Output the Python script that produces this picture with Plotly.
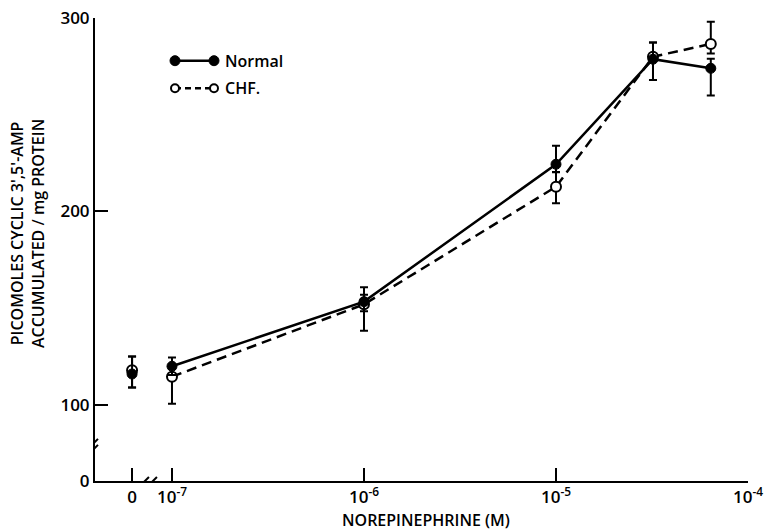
import numpy as np
import plotly.graph_objects as go

# ---- data ----
# x position of the "0" (no drug) dose, placed on the broken log axis
zero_pos = -7.208
conc_labels = ["0", "1e-7", "1e-6", "1e-5", "3.2e-5", "6.4e-5"]
conc_log = [zero_pos, -7.0, -6.0, -5.0, float(np.log10(3.2e-5)), float(np.log10(6.4e-5))]

normal_y = [116, 120, 153.4, 224.4, 278.7, 274]
normal_plus = [9, 4.5, 7.4, 9.6, 8.7, 5]
normal_minus = [7, 4.5, 5, 4, 10.7, 14]

chf_y = [118, 114.6, 152, 212.8, 280, 286.6]
chf_plus = [7, 4, 5, 7.5, 7.4, 11.5]
chf_minus = [9, 14, 13.6, 8.6, 12, 5]

x_tickvals = [zero_pos, -7, -6, -5, -4]
x_ticktext = ["0", "10<sup>-7</sup>", "10<sup>-6</sup>", "10<sup>-5</sup>", "10<sup>-4</sup>"]
y_zero_pos = 60.7
y_tickvals = [y_zero_pos, 100, 200, 300]
y_ticktext = ["0", "100", "200", "300"]

FONT = "Open Sans"
WEIGHT = 600

fig = go.Figure()

fig.add_trace(go.Scatter(
    x=conc_log[1:], y=chf_y[1:], mode="lines",
    line=dict(color="black", width=2.5, dash="10px,6px"),
    showlegend=False, hoverinfo="skip"))
fig.add_trace(go.Scatter(
    x=conc_log, y=chf_y, mode="markers",
    marker=dict(symbol="circle", size=10, color="white",
                line=dict(color="black", width=2)),
    error_y=dict(type="data", symmetric=False, array=chf_plus,
                 arrayminus=chf_minus, color="black", thickness=2, width=4),
    name="CHF.", showlegend=False))
fig.add_trace(go.Scatter(
    x=conc_log[1:], y=normal_y[1:], mode="lines",
    line=dict(color="black", width=2.5),
    showlegend=False, hoverinfo="skip"))
fig.add_trace(go.Scatter(
    x=conc_log, y=normal_y, mode="markers",
    marker=dict(symbol="circle", size=10, color="black",
                line=dict(color="black", width=1)),
    error_y=dict(type="data", symmetric=False, array=normal_plus,
                 arrayminus=normal_minus, color="black", thickness=2, width=4),
    name="Normal", showlegend=False))

tickfont = dict(family=FONT, size=17, color="black", weight=WEIGHT)

# ---- axes ----
fig.update_xaxes(
    range=[-7.401, -4.0], showgrid=False, zeroline=False, automargin=False,
    showline=True, linecolor="black", linewidth=2,
    ticks="inside", ticklen=13, tickwidth=2, tickcolor="black",
    tickvals=x_tickvals, ticktext=x_ticktext, tickfont=tickfont)
fig.update_yaxes(
    range=[y_zero_pos, 300], showgrid=False, zeroline=False, automargin=False,
    showline=True, linecolor="black", linewidth=2,
    ticks="inside", ticklen=13, tickwidth=2, tickcolor="black",
    tickvals=y_tickvals, ticktext=y_ticktext, tickfont=tickfont)

shapes = []
# axis break on y axis
shapes.append(dict(type="rect", xref="x", yref="y", xsizemode="pixel", ysizemode="pixel",
                   xanchor=-7.401, yanchor=80.4, x0=-3, x1=3, y0=-3, y1=3,
                   fillcolor="white", line=dict(width=0)))
for dy in (-3, 3):
    shapes.append(dict(type="line", xref="x", yref="y", xsizemode="pixel", ysizemode="pixel",
                       xanchor=-7.401, yanchor=80.4, x0=-3, x1=3, y0=dy - 5, y1=dy + 1,
                       line=dict(color="black", width=2)))
# axis break on x axis
xb = -7.12
shapes.append(dict(type="rect", xref="x", yref="y", xsizemode="pixel", ysizemode="pixel",
                   xanchor=xb, yanchor=y_zero_pos, x0=-4, x1=4, y0=-3, y1=3,
                   fillcolor="white", line=dict(width=0)))
for dx in (-4, 4):
    shapes.append(dict(type="line", xref="x", yref="y", xsizemode="pixel", ysizemode="pixel",
                       xanchor=xb, yanchor=y_zero_pos, x0=dx - 4, x1=dx + 4, y0=-4, y1=4,
                       line=dict(color="black", width=2)))

# custom legend (line with markers at both ends)
def px2paper(px, py):
    return (px - 95) / 653, (481 - py) / 463

lx0, ly0 = px2paper(175, 60.7)
lx1, _ = px2paper(214, 60.7)
_, ly1 = px2paper(175, 88.3)
shapes.append(dict(type="line", xref="paper", yref="paper", x0=lx0, x1=lx1, y0=ly0, y1=ly0,
                   line=dict(color="black", width=2.5)))
shapes.append(dict(type="line", xref="paper", yref="paper", x0=lx0, x1=lx1, y0=ly1, y1=ly1,
                   line=dict(color="black", width=2.5, dash="6px,4px")))
for lx in (lx0, lx1):
    shapes.append(dict(type="circle", xref="paper", yref="paper", xsizemode="pixel",
                       ysizemode="pixel", xanchor=lx, yanchor=ly0, x0=-5, x1=5, y0=-5, y1=5,
                       fillcolor="black", line=dict(color="black", width=1)))
    shapes.append(dict(type="circle", xref="paper", yref="paper", xsizemode="pixel",
                       ysizemode="pixel", xanchor=lx, yanchor=ly1, x0=-4, x1=4, y0=-4, y1=4,
                       fillcolor="white", line=dict(color="black", width=2)))

txtfont = dict(family=FONT, size=16, color="black", weight=WEIGHT)
tx, _ = px2paper(223, 0)
annotations = [
    dict(text="Normal", x=tx, y=ly0, xref="paper", yref="paper", xanchor="left",
         yanchor="middle", showarrow=False, font=txtfont),
    dict(text="CHF.", x=tx, y=ly1, xref="paper", yref="paper", xanchor="left",
         yanchor="middle", showarrow=False, font=txtfont),
]
ax, ay = px2paper(426, 520)
annotations.append(dict(text="NOREPINEPHRINE (M)", x=ax, y=ay, xref="paper", yref="paper",
                        xanchor="center", yanchor="middle", showarrow=False, font=txtfont))
yx, yy = px2paper(27, 234)
annotations.append(dict(text="PICOMOLES CYCLIC 3',5'-AMP<br>ACCUMULATED / mg PROTEIN",
                        x=yx, y=yy, xref="paper", yref="paper", textangle=-90,
                        xanchor="center", yanchor="middle", showarrow=False,
                        font=dict(family=FONT, size=16, color="black", weight=WEIGHT)))

fig.update_layout(
    width=773, height=531, autosize=False,
    margin=dict(l=95, r=25, t=18, b=50),
    paper_bgcolor="white", plot_bgcolor="white",
    shapes=shapes, annotations=annotations, showlegend=False,
)

fig.write_html("out.html", config={"displayModeBar": False},
               post_script="document.body.style.margin='0';document.body.style.padding='0';")
